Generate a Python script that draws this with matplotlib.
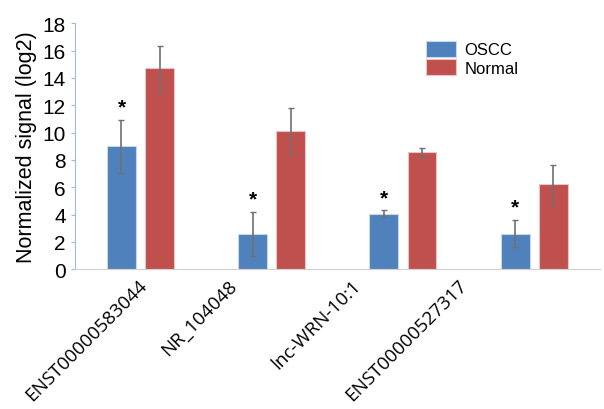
import numpy as np
import matplotlib.pyplot as plt
import matplotlib.transforms as mtransforms

genes = ["ENST00000583044", "NR_104048", "lnc-WRN-10:1", "ENST00000527317"]
oscc = [9.0, 2.6, 4.05, 2.6]
oscc_err = [1.95, 1.6, 0.25, 1.0]
normal = [14.7, 10.1, 8.55, 6.2]
normal_err = [1.65, 1.7, 0.35, 1.4]

plt.rcParams['font.family'] = ['Liberation Sans', 'DejaVu Sans']

fig = plt.figure(figsize=(6.04, 4.10), dpi=100)
ax = fig.add_axes([0.124, 0.341, 0.869, 0.6])

x = np.arange(len(genes)) + 0.5
w = 0.22
off = 0.145
ax.bar(x - off, oscc, w, color="#4F81BD", edgecolor="#c8d6ea", linewidth=0.8,
       yerr=oscc_err, ecolor="#707070", capsize=2.5, error_kw={"elinewidth": 1.2}, label="OSCC")
ax.bar(x + off, normal, w, color="#C0504D", edgecolor="#e8c4c3", linewidth=0.8,
       yerr=normal_err, ecolor="#707070", capsize=2.5, error_kw={"elinewidth": 1.2}, label="Normal")

for xi, v, e in zip(x - off, oscc, oscc_err):
    ax.text(xi, v + e + 0.25, "*", ha="center", va="bottom", fontsize=15, fontweight="bold")

ax.set_xlim(0, 4)
ax.set_ylim(0, 18)
ax.set_yticks(range(0, 19, 2))
ax.tick_params(axis="y", labelsize=15, length=3, color="#9dbbe0")
ax.tick_params(axis="x", length=0)
ax.set_xticks(x)
ax.set_xticklabels(genes, rotation=45, ha="right", va="center", rotation_mode="anchor", fontsize=13.5,
                   family=["Open Sans", "DejaVu Sans"])
# labels in the original sit a bit off their groups
shifts = [4, -38, -45, -70]
for lab, dx in zip(ax.get_xticklabels(), shifts):
    lab.set_transform(lab.get_transform() + mtransforms.ScaledTranslation(dx / 100, -8 / 100, fig.dpi_scale_trans))
ax.set_ylabel("Normalized signal (log2)", fontsize=15.5)

for s in ["top", "right"]:
    ax.spines[s].set_visible(False)
ax.spines["left"].set_color("#9dbbe0")
ax.spines["bottom"].set_color("#d0d0d0")

ax.legend(loc="upper left", bbox_to_anchor=(0.64, 0.99), frameon=False, fontsize=12,
          handlelength=1.8, handleheight=1.1, labelspacing=0.1, handletextpad=0.5)

fig.savefig("out.png", dpi=100)
